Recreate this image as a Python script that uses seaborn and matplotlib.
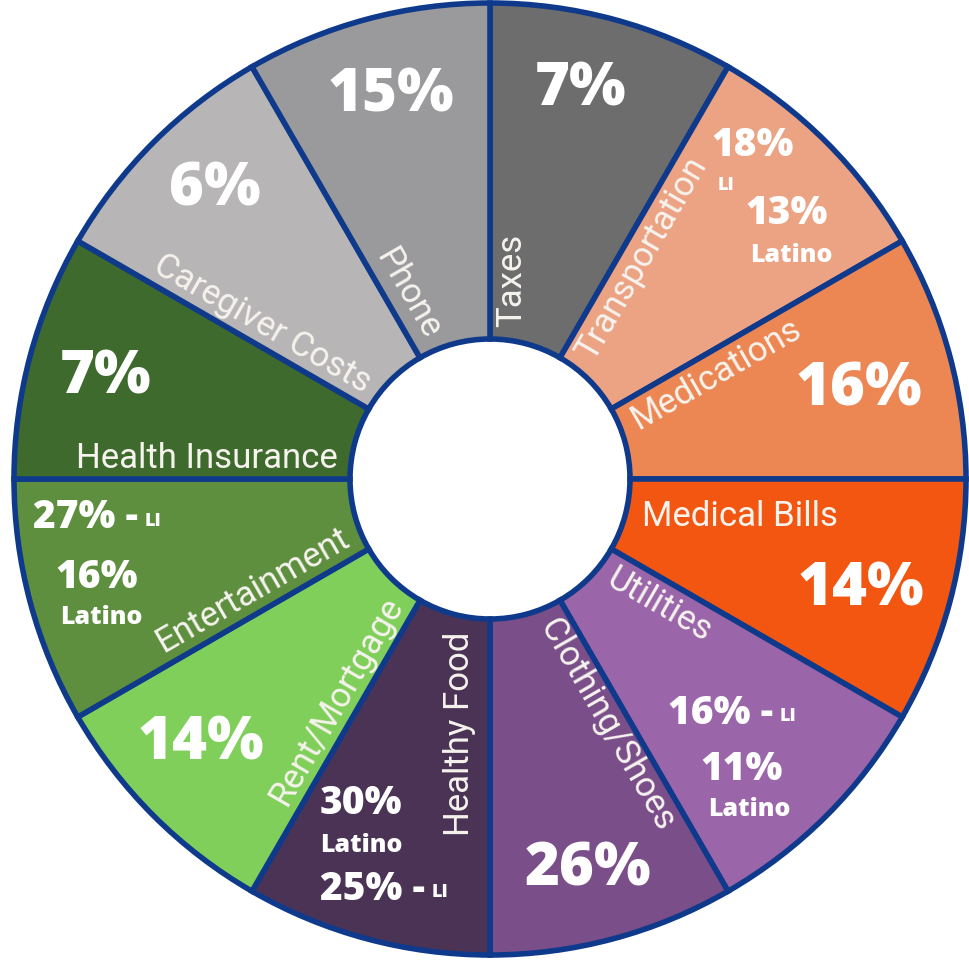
import numpy as np
import pandas as pd
import seaborn as sns
import matplotlib.pyplot as plt

# data
categories = ["Taxes", "Transportation", "Medications", "Medical Bills", "Utilities",
              "Clothing/Shoes", "Healthy Food", "Rent/Mortgage", "Entertainment",
              "Health Insurance", "Caregiver Costs", "Phone"]
pct_all = [7, None, 16, 14, None, 26, None, 14, None, 7, 6, 15]
pct_li = [None, 18, None, None, 16, None, 25, None, 27, None, None, None]
pct_latino = [None, 13, None, None, 11, None, 30, None, 16, None, None, None]
seg_colors = ["#6d6d6d", "#eba384", "#ec8753", "#f25611", "#9b65a9", "#7a4e89",
              "#4a3355", "#80cf5a", "#5e8f3f", "#3e6a2e", "#b7b5b5", "#9a999b"]

df = pd.DataFrame({"category": categories, "all": pct_all, "li": pct_li, "latino": pct_latino})

sns.set_style("white")
plt.rcParams['font.family'] = ['Open Sans', 'DejaVu Sans']
edge = "#0f3a8c"
label_font = ['Roboto', 'DejaVu Sans']

fig = plt.figure(figsize=(9.7, 9.61), dpi=100)
ax = fig.add_axes([0, 0, 1, 1])
R = 476.0
cx, cy = 490, 479

ax.pie(np.ones(len(df)), colors=sns.color_palette(seg_colors), startangle=90, counterclock=False,
       radius=1.0, wedgeprops=dict(width=1 - 140 / R, edgecolor=edge, linewidth=4))
ax.set_xlim(-cx / R, (970 - cx) / R)
ax.set_ylim(-(961 - cy) / R, cy / R)
ax.set_axis_off()


def px(x, y):
    return (x - cx) / R, (cy - y) / R


# category names along the leading edge of each wedge (offset from edge in px)
label_gap = [22, 22, 22, 38, 25, 22, 30, 22, 22, 20, 20, 22]
r0 = 0.32
for i, name in enumerate(df["category"]):
    tb = 90 - 30 * i
    if tb <= -180:
        tb += 360
    rot = tb
    ha = "left"
    if tb > 90:
        rot, ha = tb - 180, "right"
    elif tb <= -90:
        rot, ha = tb + 180, "right"
    t = np.radians(tb)
    d = label_gap[i] / R
    x = r0 * np.cos(t) + d * np.sin(t)
    y = r0 * np.sin(t) - d * np.cos(t)
    ax.text(x, y, name, rotation=rot, rotation_mode="anchor", ha=ha, va="center",
            fontsize=25, color="#f6f3ee", family=label_font)

# big percentages
big_pos = {0: (581, 90), 2: (859, 390), 3: (861, 590), 5: (588, 870),
           7: (201, 743), 9: (106, 377), 10: (215, 190), 11: (391, 95)}
for i, (x, y) in big_pos.items():
    ax.text(*px(x, y), f"{df['all'][i]:.0f}%", ha="center", va="center",
            fontsize=43, fontweight="heavy", color="white")

small = dict(ha="center", va="center", fontsize=28, fontweight="heavy", color="white")
tiny = dict(ha="center", va="center", fontsize=18, fontweight="heavy", color="white")


def li_line(i, x, y):
    t = ax.text(*px(x, y), f"{df['li'][i]:.0f}% -", ha="left", va="center",
                fontsize=28, fontweight="heavy", color="white")
    ax.annotate("LI", xy=(1, 0.2), xycoords=t, xytext=(5, 0), textcoords="offset points",
                ha="left", va="bottom", fontsize=13, fontweight="heavy", color="white")


# Transportation
ax.text(*px(753, 145), f"{df['li'][1]:.0f}%", **small)
ax.text(*px(726, 185), "LI", ha="center", va="center", fontsize=13, fontweight="heavy", color="white")
ax.text(*px(787, 213), f"{df['latino'][1]:.0f}%", **small)
ax.text(*px(791, 256), "Latino", **tiny)

# Utilities
li_line(4, 668, 713)
ax.text(*px(742, 770), f"{df['latino'][4]:.0f}%", **small)
ax.text(*px(749, 809), "Latino", **tiny)

# Healthy Food
ax.text(*px(361, 804), f"{df['latino'][6]:.0f}%", **small)
ax.text(*px(361, 845), "Latino", **tiny)
li_line(6, 320, 889)

# Entertainment
li_line(8, 33, 518)
ax.text(*px(97, 578), f"{df['latino'][8]:.0f}%", **small)
ax.text(*px(101, 617), "Latino", **tiny)

fig.savefig("out.png", dpi=100, facecolor="white")
